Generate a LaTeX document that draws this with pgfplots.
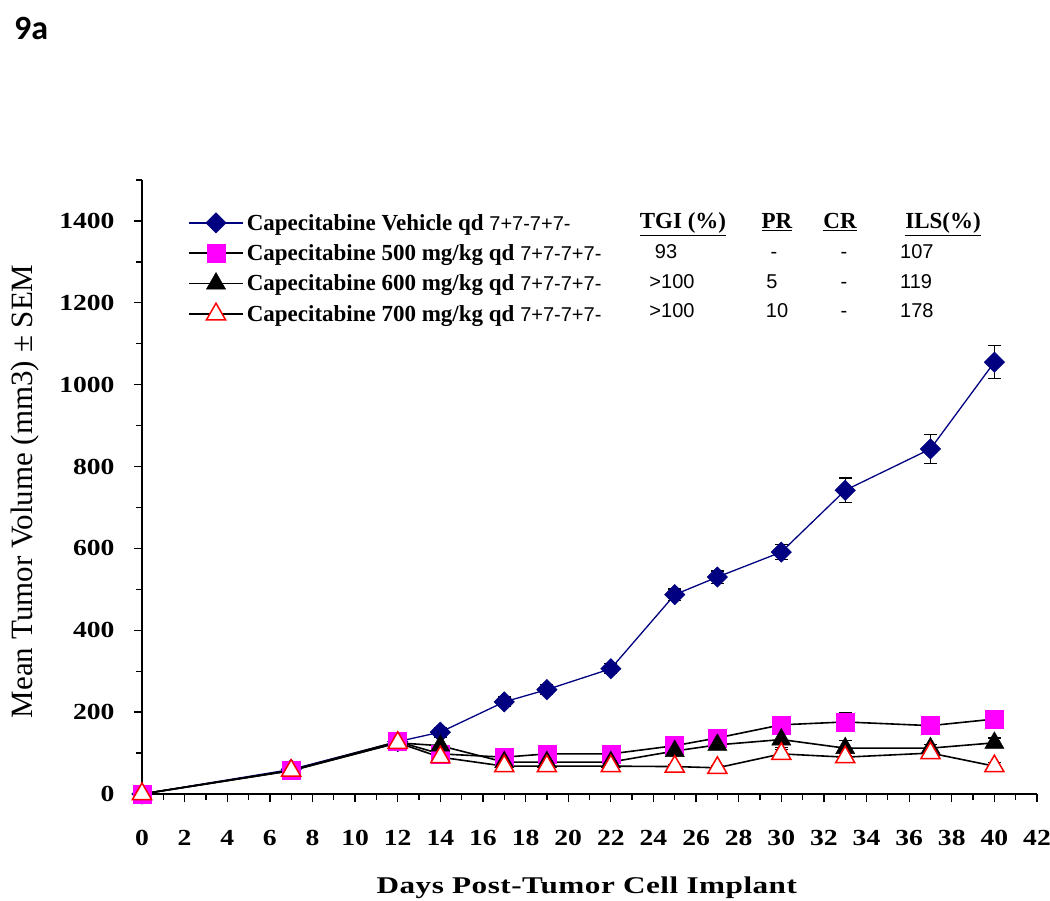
\documentclass[border=0pt]{standalone}
\usepackage{pgfplots}
\pgfplotsset{compat=1.18}
\usepackage{fontspec}
\setmainfont{Liberation Serif}
\newfontfamily\tickfont[FakeStretch=1.2]{Liberation Serif}
\newfontfamily\xlabfont[FakeStretch=1.3,LetterSpace=2]{Liberation Serif}
\newfontfamily\carlito{Carlito}
\newfontfamily\sansv{Liberation Sans}
\definecolor{navy}{RGB}{0,0,128}
\definecolor{mag}{RGB}{255,0,255}

\pgfplotstableread{
x y e
0 0 0
7 60 5
12 128 8
14 151 10
17 225 12
19 255 12
22 306 12
25 487 14
27 530 15
30 591 19
33 742 30
37 843 35
40 1055 40
}\vehicle
\pgfplotstableread{
x y e
0 0 0
7 58 0
12 128 0
14 98 10
17 90 8
19 98 8
22 98 8
25 118 8
27 137 10
30 169 19
33 176 22
37 167 8
40 183 8
}\dosefive
\pgfplotstableread{
x y e
0 0 0
7 57 0
12 125 0
14 118 20
17 78 6
19 78 6
22 78 6
25 105 8
27 120 12
30 133 20
33 112 18
37 112 8
40 125 12
}\dosesix
\pgfplotstableread{
x y e
0 0 0
7 57 0
12 125 0
14 90 8
17 68 6
19 68 6
22 68 6
25 67 6
27 64 6
30 98 10
33 90 10
37 100 8
40 68 8
}\doseseven

\begin{document}
\begin{tikzpicture}
\path[use as bounding box] (0pt,0pt) rectangle (1050pt,900pt);
\node[anchor=base west, inner sep=0pt, font=\carlito\bfseries\fontsize{34}{40}\selectfont] at (14pt,860pt) {9a};
\begin{axis}[
  at={(142pt,106pt)}, anchor=south west,
  scale only axis, width=895pt, height=614pt,
  xmin=0, xmax=42, ymin=0, ymax=1500,
  clip=false,
  axis x line*=bottom, axis y line*=left,
  axis line style={line width=1.8pt,-},
  xtick={0,2,...,42}, minor xtick={1,3,...,41},
  ytick={0,200,...,1400}, minor ytick={100,300,...,1500},
  tick align=outside,
  major tick length=8pt, minor tick length=6pt,
  every tick/.style={black, line width=1.3pt},
  /pgf/number format/assume math mode=true,
  /pgf/number format/1000 sep={},
  ticklabel style={font=\tickfont\bfseries\fontsize{23}{27}\selectfont},
  xticklabel style={yshift=-25pt},
  yticklabel style={xshift=-16pt},
  xlabel={Days Post-Tumor Cell Implant},
  ylabel={Mean Tumor Volume (mm3) ± SEM},
  xlabel style={font=\xlabfont\bfseries\fontsize{24}{28}\selectfont, at={(axis description cs:0.497,-0.153)}, anchor=center},
  ylabel style={font=\fontsize{31}{35}\selectfont, at={(axis description cs:-0.1307,0.493)}, anchor=center},
  error bars/error bar style={black, line width=1.2pt, solid},
  error bars/error mark options={rotate=90, mark size=6.5pt, black, line width=1.2pt},
  legend image code/.code={\draw[mark repeat=2,mark phase=2,#1] plot coordinates {(0pt,0pt) (27pt,0pt) (54pt,0pt)};},
  legend style={at={(axis description cs:0.0514,0.947)}, anchor=north west, draw=none, fill=none,
    font=\bfseries\fontsize{23}{27}\selectfont, row sep=10pt, inner sep=0pt,
    nodes={inner xsep=3pt, inner ysep=1pt}},
  legend cell align=left,
]
\addplot[navy, line width=1.3pt, mark=square*, mark size=7.2pt, mark options={rotate=45, fill=navy, draw=navy, line width=0.5pt},
  error bars/.cd, y dir=both, y explicit] table[x=x,y=y,y error=e] {\vehicle};
\addlegendentry{Capecitabine Vehicle qd {\mdseries\sansv\fontsize{20}{24}\selectfont 7+7-7+7-}}
\addplot[black, line width=1.6pt, mark=square*, mark size=9pt, mark options={fill=mag, draw=mag, line width=0.5pt},
  error bars/.cd, y dir=both, y explicit] table[x=x,y=y,y error=e] {\dosefive};
\addlegendentry{Capecitabine 500 mg/kg qd {\mdseries\sansv\fontsize{20}{24}\selectfont 7+7-7+7-}}
\addplot[black, line width=1.6pt, mark=triangle*, mark size=11pt, mark options={fill=black, draw=black, line width=0.5pt},
  error bars/.cd, y dir=both, y explicit] table[x=x,y=y,y error=e] {\dosesix};
\addlegendentry{Capecitabine 600 mg/kg qd {\mdseries\sansv\fontsize{20}{24}\selectfont 7+7-7+7-}}
\addplot[black, line width=1.6pt, mark=triangle*, mark size=11pt, mark options={fill=white, draw=red, line width=1.5pt},
  error bars/.cd, y dir=both, y explicit] table[x=x,y=y,y error=e] {\doseseven};
\addlegendentry{Capecitabine 700 mg/kg qd {\mdseries\sansv\fontsize{20}{24}\selectfont 7+7-7+7-}}
\end{axis}
% statistics table beside the legend
\begin{scope}[every node/.style={inner sep=0pt, anchor=base}]
\begin{scope}[every node/.append style={font=\bfseries\fontsize{23}{27}\selectfont}]
\node at (683pt,671pt) {\underline{TGI (\%)}};
\node at (777pt,671pt) {\underline{PR}};
\node at (840pt,671pt) {\underline{CR}};
\node at (943pt,671pt) {\underline{ILS(\%)}};
\end{scope}
\begin{scope}[every node/.append style={font=\sansv\fontsize{20}{24}\selectfont}]
\node at (666pt,641pt) {93};
\node at (774pt,641pt) {-};
\node at (844pt,641pt) {-};
\node[anchor=base west] at (900pt,641pt) {107};
\node at (672pt,611pt) {>100};
\node at (772pt,611pt) {5};
\node at (844pt,611pt) {-};
\node[anchor=base west] at (900pt,611pt) {119};
\node at (672pt,582pt) {>100};
\node at (777pt,582pt) {10};
\node at (844pt,582pt) {-};
\node[anchor=base west] at (900pt,582pt) {178};
\end{scope}
\end{scope}
\end{tikzpicture}
\end{document}
